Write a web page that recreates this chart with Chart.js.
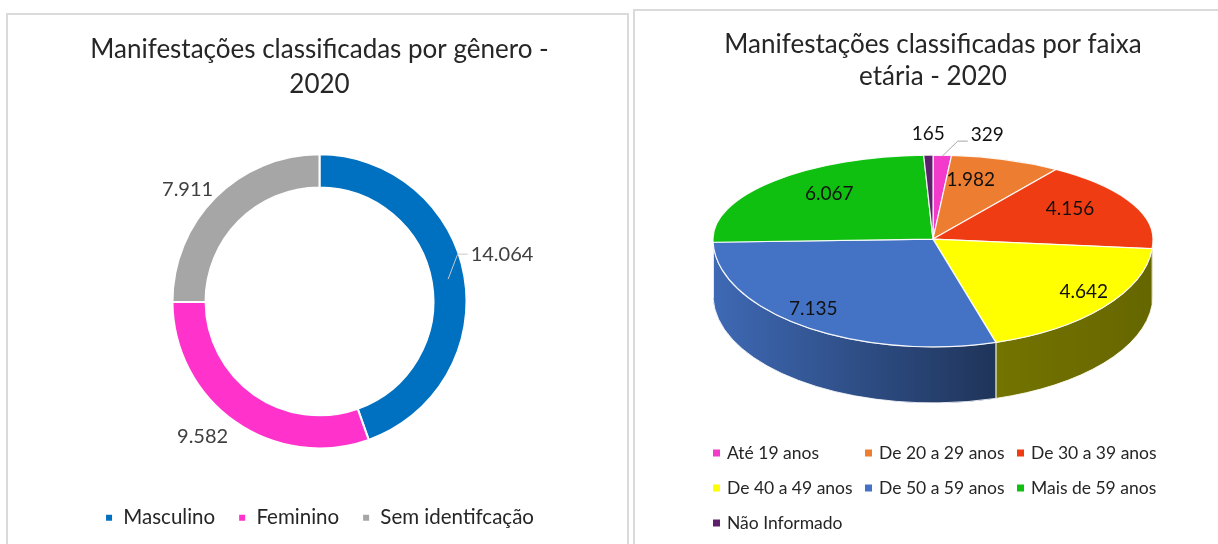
<!DOCTYPE html>
<html>
<head>
<meta charset="utf-8">
<script src="https://cdn.jsdelivr.net/npm/chart.js@4.4.0/dist/chart.umd.min.js"></script>
<style>
  html, body { margin: 0; padding: 0; background: #fff; }
  body { width: 1218px; height: 544px; position: relative; overflow: hidden; }
  .panel { position: absolute; background: #fff; box-sizing: border-box; border: 2px solid #dadada; }
  #p1 { left: 6px; top: 13px; width: 623px; height: 545px; }
  #p2 { left: 633px; top: 9px; width: 600px; height: 545px; }
  canvas { position: absolute; }
  #genero { left: 8px; top: 15px; }
  #faixa { left: 635px; top: 11px; }
</style>
</head>
<body>
<div class="panel" id="p1"></div>
<div class="panel" id="p2"></div>
<canvas id="genero" width="619" height="529"></canvas>
<canvas id="faixa" width="583" height="533"></canvas>
<script>
// dados - genero
var generoLabels = ['Masculino', 'Feminino', 'Sem identifcação'];
var generoValues = [14064, 9582, 7911];
var generoColors = ['#0070c0', '#ff33cc', '#a6a6a6'];

// dados - faixa etaria
var faixaLabels = ['Até 19 anos', 'De 20 a 29 anos', 'De 30 a 39 anos', 'De 40 a 49 anos', 'De 50 a 59 anos', 'Mais de 59 anos', 'Não Informado'];
var faixaValues = [329, 1982, 4156, 4642, 7135, 6067, 165];
var faixaColors = ['#f23bcb', '#ed7d31', '#f03c12', '#ffff00', '#4472c4', '#10c010', '#5c1f6b'];

var FONT = 'Lato, "Open Sans", sans-serif';

function fmt(v) {
  return String(v).replace(/\B(?=(\d{3})+(?!\d))/g, '.');
}

// rotulos do grafico de rosca
var donutLabels = {
  id: 'donutLabels',
  afterDatasetsDraw: function(chart, args, o) {
    var ctx = chart.ctx;
    var meta = chart.getDatasetMeta(0);
    var values = chart.data.datasets[0].data;
    ctx.save();
    ctx.font = o.size + 'px ' + FONT;
    ctx.fillStyle = o.color;
    ctx.textAlign = 'center';
    ctx.textBaseline = 'middle';
    meta.data.forEach(function(arc, i) {
      var mid = (arc.startAngle + arc.endAngle) / 2;
      var r = arc.outerRadius + o.offset;
      var x = arc.x + Math.cos(mid) * r + o.nudge[i][0];
      var y = arc.y + Math.sin(mid) * r + o.nudge[i][1];
      var txt = fmt(values[i]);
      ctx.fillText(txt, x, y);
      if (o.leader[i]) {
        var rm = (arc.innerRadius + arc.outerRadius) / 2;
        var left = x - ctx.measureText(txt).width / 2 - 3;
        ctx.beginPath();
        ctx.moveTo(arc.x + Math.cos(mid) * rm, arc.y + Math.sin(mid) * rm);
        ctx.lineTo(left - 10, y);
        ctx.lineTo(left, y);
        ctx.strokeStyle = '#c8c8c8';
        ctx.lineWidth = 1;
        ctx.stroke();
      }
    });
    ctx.restore();
  }
};

// pizza 3D desenhada a partir dos angulos calculados pelo Chart.js
// metade de tras mais achatada que a da frente (perspectiva)
function ellipsePath(ctx, cx, cy, rx, ryBack, ryFront, a0, a1) {
  var pts = [a0];
  [0, Math.PI].forEach(function(c) { if (c > a0 && c < a1) pts.push(c); });
  pts.push(a1);
  for (var k = 0; k < pts.length - 1; k++) {
    var s = pts[k], e = pts[k + 1];
    var ry = Math.sin((s + e) / 2) > 0 ? ryFront : ryBack;
    ctx.ellipse(cx, cy, rx, ry, 0, s, e);
  }
}

var pie3d = {
  id: 'pie3d',
  beforeDatasetsDraw: function(chart, args, o) {
    var ctx = chart.ctx;
    var meta = chart.getDatasetMeta(0);
    var ca = chart.chartArea;
    var values = chart.data.datasets[0].data;
    var total = values.reduce(function(a, b) { return a + b; }, 0);
    var rx = o.radiusX, ryB = rx * o.tiltBack, ryF = rx * o.tiltFront, d = o.depth;
    var cx = (ca.left + ca.right) / 2;
    var cy = (ca.top + ca.bottom) / 2 - (ryF + d - ryB) / 2;

    ctx.save();
    // laterais (metade da frente)
    var grad = ctx.createLinearGradient(cx - rx, 0, cx + rx, 0);
    grad.addColorStop(0, 'rgba(0,0,0,0.08)');
    grad.addColorStop(0.65, 'rgba(0,0,0,0.55)');
    grad.addColorStop(1, 'rgba(0,0,0,0.6)');
    meta.data.forEach(function(arc) {
      var a0 = Math.max(arc.startAngle, 0);
      var a1 = Math.min(arc.endAngle, Math.PI);
      if (a1 <= a0) return;
      ctx.beginPath();
      ctx.ellipse(cx, cy, rx, ryF, 0, a0, a1);
      ctx.lineTo(cx + rx * Math.cos(a1), cy + ryF * Math.sin(a1) + d);
      ctx.ellipse(cx, cy + d, rx, ryF, 0, a1, a0, true);
      ctx.closePath();
      ctx.fillStyle = arc.options.backgroundColor;
      ctx.fill();
      ctx.fillStyle = grad;
      ctx.fill();
      ctx.strokeStyle = 'rgba(255,255,255,0.85)';
      ctx.lineWidth = 1;
      ctx.stroke();
    });
    // topo
    meta.data.forEach(function(arc) {
      ctx.beginPath();
      ctx.moveTo(cx, cy);
      ellipsePath(ctx, cx, cy, rx, ryB, ryF, arc.startAngle, arc.endAngle);
      ctx.closePath();
      ctx.fillStyle = arc.options.backgroundColor;
      ctx.fill();
      ctx.strokeStyle = 'rgba(255,255,255,0.9)';
      ctx.lineWidth = 1.2;
      ctx.stroke();
    });
    // rotulos
    ctx.font = o.size + 'px ' + FONT;
    ctx.fillStyle = o.color;
    ctx.textAlign = 'center';
    ctx.textBaseline = 'middle';
    meta.data.forEach(function(arc, i) {
      var mid = (arc.startAngle + arc.endAngle) / 2;
      var outside = values[i] / total < o.outsideBelow;
      var f = outside ? 1 : o.labelRadius;
      var ry = Math.sin(mid) > 0 ? ryF : ryB;
      var ax = cx + Math.cos(mid) * rx * f;
      var ay = cy + Math.sin(mid) * ry * f;
      var x = ax + o.nudge[i][0];
      var y = ay + o.nudge[i][1];
      var txt = fmt(values[i]);
      ctx.fillText(txt, x, y);
      if (o.leader[i]) {
        var left = x - ctx.measureText(txt).width / 2 - 3;
        ctx.beginPath();
        ctx.moveTo(ax, ay + 1);
        ctx.lineTo(left - 10, y + 6);
        ctx.lineTo(left, y + 6);
        ctx.strokeStyle = '#a6a6a6';
        ctx.lineWidth = 1;
        ctx.stroke();
      }
    });
    ctx.restore();
    return false;
  }
};

// legenda em grade (colunas alinhadas, como no Excel)
var gridLegend = {
  id: 'gridLegend',
  afterDraw: function(chart, args, o) {
    var ctx = chart.ctx;
    var ds = chart.data.datasets[0];
    ctx.save();
    ctx.font = o.size + 'px ' + FONT;
    ctx.textBaseline = 'middle';
    ctx.textAlign = 'left';
    chart.data.labels.forEach(function(label, i) {
      var col = i % o.columns, row = Math.floor(i / o.columns);
      var x = o.left + col * o.colPitch;
      var y = chart.chartArea.bottom + o.top + row * o.rowPitch;
      ctx.fillStyle = ds.backgroundColor[i];
      ctx.fillRect(x, y - o.box / 2, o.box, o.box);
      ctx.fillStyle = o.color;
      ctx.fillText(label, x + o.box + o.gap, y);
    });
    ctx.restore();
  }
};

new Chart(document.getElementById('genero'), {
  type: 'doughnut',
  data: {
    labels: generoLabels,
    datasets: [{
      data: generoValues,
      backgroundColor: generoColors,
      borderColor: '#ffffff',
      borderWidth: 2
    }]
  },
  options: {
    responsive: false,
    animation: false,
    radius: 147,
    cutout: '77.5%',
    layout: { padding: { left: 4, right: 0, top: 0, bottom: 6 } },
    plugins: {
      title: {
        display: true,
        text: ['Manifestações classificadas por gênero -', '2020'],
        color: '#262626',
        font: { family: FONT, size: 26, weight: 'normal', lineHeight: 1.35 },
        padding: { top: 17, bottom: 16 }
      },
      legend: {
        position: 'bottom',
        labels: {
          boxWidth: 8, boxHeight: 8, padding: 23,
          color: '#262626',
          font: { family: FONT, size: 20.5 }
        }
      },
      tooltip: { enabled: false },
      donutLabels: {
        size: 20, color: '#404040', offset: 25,
        nudge: [[13, -18], [-18, -6], [-10, 10]],
        leader: [true, false, false]
      }
    }
  },
  plugins: [donutLabels]
});

new Chart(document.getElementById('faixa'), {
  type: 'pie',
  data: {
    labels: faixaLabels,
    datasets: [{
      data: faixaValues,
      backgroundColor: faixaColors,
      borderColor: '#ffffff',
      borderWidth: 1
    }]
  },
  options: {
    responsive: false,
    animation: false,
    layout: { padding: { left: 59, right: 46, top: 0, bottom: 108 } },
    plugins: {
      title: {
        display: true,
        text: ['Manifestações classificadas por faixa', 'etária - 2020'],
        color: '#262626',
        font: { family: FONT, size: 26, weight: 'normal', lineHeight: 1.23 },
        padding: { top: 18, bottom: 29 }
      },
      legend: { display: false },
      tooltip: { enabled: false },
      gridLegend: {
        left: 78, top: 17, columns: 3, colPitch: 152, rowPitch: 35,
        box: 7, gap: 7, size: 17.5, color: '#262626'
      },
      pie3d: {
        radiusX: 220, tiltBack: 0.382, tiltFront: 0.49, depth: 56,
        size: 19, color: '#111111',
        labelRadius: 0.75, outsideBelow: 0.02,
        nudge: [[45, -20], [-17, 0], [-12, -3], [23, 2], [-23, 4], [17, -2], [0, -21]],
        leader: [true, false, false, false, false, false, false]
      }
    }
  },
  plugins: [pie3d, gridLegend]
});
</script>
</body>
</html>
